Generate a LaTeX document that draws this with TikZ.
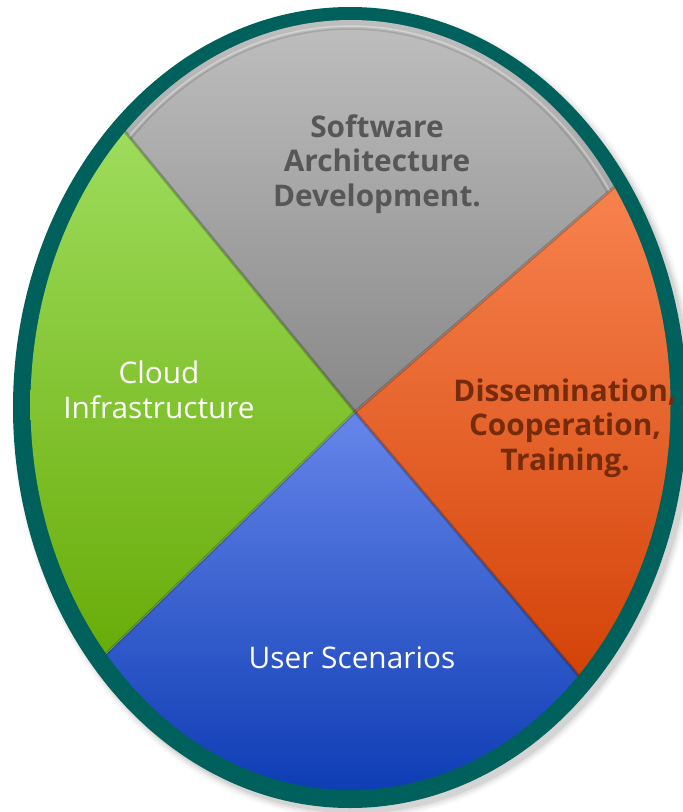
\documentclass[tikz,border=0pt]{standalone}
\usepackage{fontspec}
\setmainfont{Open Sans}
\definecolor{rimteal}{HTML}{00615C}
\definecolor{grayT}{HTML}{BEBEBE}
\definecolor{grayB}{HTML}{888888}
\definecolor{greenT}{HTML}{9EDC5C}
\definecolor{greenB}{HTML}{68AC08}
\definecolor{orangeT}{HTML}{F8834F}
\definecolor{orangeB}{HTML}{D24106}
\definecolor{blueT}{HTML}{6686EA}
\definecolor{blueB}{HTML}{0E3DB4}
\definecolor{txtgray}{HTML}{575757}
\definecolor{txtbrown}{HTML}{762C0B}
\tikzset{
  lbl/.style={align=center, font=\fontsize{29.8}{34.5}\selectfont, inner sep=0pt},
  lblbold/.style={lbl, font=\fontsize{29.8}{34.5}\selectfont\bfseries},
  seam/.style={line width=3pt, black, opacity=0.22},
}
\newcommand{\innerell}{(350.5,405) ellipse [x radius=320, y radius=385]}
\begin{document}
\begin{tikzpicture}[x=1pt,y=-1pt]
\useasboundingbox (0,0) rectangle (683,812);
\clip (0,0) rectangle (683,812);
% key points
\coordinate (C) at (355,412);
\coordinate (UL) at (-101,-144);
\coordinate (UR) at (885,-48);
\coordinate (LL) at (-149,902);
\coordinate (LR) at (815,954);
% outer soft shadow (bottom-right)
\foreach \k/\o in {6/0.025,4/0.035,2/0.05,0/0.07}
  \fill[black,opacity=\o] (355,413) ellipse [x radius=337+\k, y radius=400.5+\k];
% teal rim
\fill[rimteal] (350,407.5) ellipse [x radius=337, y radius=400.5];
% gray sector
\begin{scope}
  \clip \innerell;
  \clip (C) -- (UL) -- (-101,-400) -- (885,-400) -- (UR) -- cycle;
  \shade[top color=grayT, bottom color=grayB] (0,20) rectangle (683,412);
  \draw[white,opacity=0.35,line width=1.5pt] (350.5,405) ellipse [x radius=314, y radius=379];
  \draw[black,opacity=0.12,line width=1.5pt] (350.5,405) ellipse [x radius=311, y radius=376];
\end{scope}
% orange sector
\begin{scope}
  \clip \innerell;
  \clip (C) -- (UR) -- (1000,-48) -- (1000,954) -- (LR) -- cycle;
  \shade[top color=orangeT, bottom color=orangeB] (355,180) rectangle (683,690);
\end{scope}
% blue sector
\begin{scope}
  \clip \innerell;
  \clip (C) -- (LR) -- (815,1100) -- (-149,1100) -- (LL) -- cycle;
  \shade[top color=blueT, bottom color=blueB] (0,412) rectangle (683,790);
\end{scope}
% green sector
\begin{scope}
  \clip \innerell;
  \clip (C) -- (LL) -- (-300,902) -- (-300,-144) -- (UL) -- cycle;
  \shade[top color=greenT, bottom color=greenB] (0,130) rectangle (355,660);
\end{scope}
% seams
\begin{scope}
  \clip \innerell;
  \draw[seam] (C) -- (UL);
  \draw[seam] (C) -- (UR);
  \draw[seam] (C) -- (LL);
  \draw[seam] (C) -- (LR);
  \draw[white,opacity=0.25,line width=0.8pt] (C) -- (LL);
  \draw[white,opacity=0.2,line width=0.8pt] (C) -- (UR);
\end{scope}
% labels
\node[lblbold, text=txtgray] (sw) at (377,164) {Software\\Architecture\\Development.};
\node[lbl, text=white] (cloud) at (159,390) {Cloud\\Infrastructure};
\node[lblbold, text=txtbrown] (diss) at (565,428) {Dissemination,\\Cooperation,\\Training.};
\node[lbl, text=white] (user) at (352,658) {User Scenarios};
\end{tikzpicture}
\end{document}
